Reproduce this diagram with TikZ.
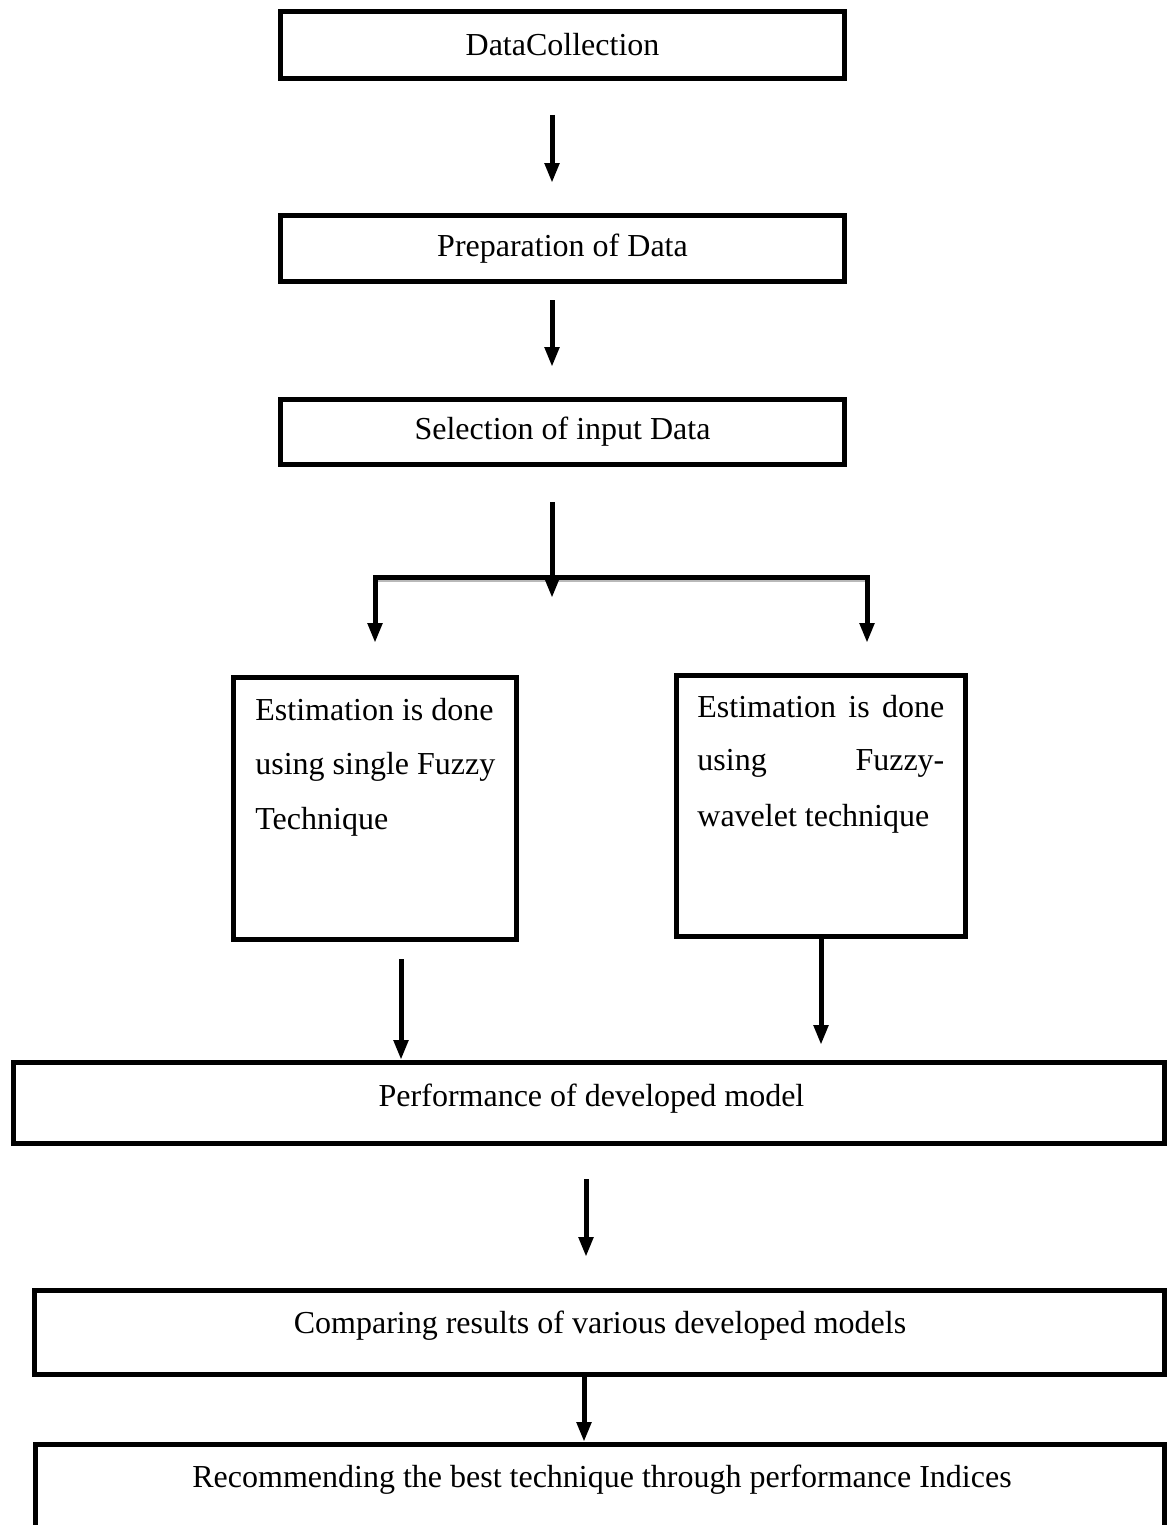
\documentclass[tikz,border=0pt]{standalone}
\usepackage{fontspec}
\setmainfont{Liberation Serif}
\usetikzlibrary{arrows.meta}
\begin{document}
\begin{tikzpicture}[x=0.5pt,y=-0.5pt,
  box/.style={draw, line width=2.5pt, inner sep=0pt, font=\fontsize{16}{19}\selectfont},
  txt/.style={inner sep=0pt, font=\fontsize{16}{19}\selectfont},
  flow/.style={line width=2.5pt, -{Triangle[length=10pt,width=7pt]}},
  shadowline/.style={gray!55, line width=1.5pt},
]
\useasboundingbox (0,0) rectangle (1167,1525);
\clip (0,0) rectangle (1167,1525);

% boxes
\node[box, minimum width=282pt, minimum height=33.5pt] (b1) at (562.5,45) {DataCollection};
\node[box, minimum width=282pt, minimum height=33pt] (b2) at (562.5,248.5) {Preparation of Data};
\node[box, minimum width=282pt, minimum height=32.5pt] (b3) at (562.5,432) {Selection of input Data};
\node[box, minimum width=141.5pt, minimum height=131pt] (L) at (375,808.5) {};
\node[box, minimum width=144.5pt, minimum height=130.5pt] (R) at (821,806) {};
\node[box, minimum width=575.5pt, minimum height=40.5pt] (P) at (589,1103) {};
\node[box, minimum width=565pt, minimum height=42pt] (C) at (599.5,1332.5) {};
\node[box, minimum width=564.5pt, minimum height=76.5pt] (Rec) at (600,1521) {};

% texts
\node[txt, anchor=base west] (l1) at (255,720) {Estimation is done};
\node[txt, anchor=base west] (l2) at (255,774) {using single Fuzzy};
\node[txt, anchor=base west] (l3) at (255,829) {Technique};
\node[txt, anchor=base west] (r1) at (697,717) {\hbox to 123.5pt{Estimation\hfill is\hfill done}};
\node[txt, anchor=base west] (r2) at (697,770) {\hbox to 123.5pt{using\hfill Fuzzy-}};
\node[txt, anchor=base west] (r3) at (697,826) {wavelet technique};
\node[txt, anchor=base] (pt) at (591.5,1106) {Performance of developed model};
\node[txt, anchor=base] (ct) at (600,1333) {Comparing results of various developed models};
\node[txt, anchor=base] (rt) at (602,1487) {Recommending the best technique through performance Indices};

% connector points
\coordinate (a1s) at (552,115);
\coordinate (a1e) at (552,183);
\coordinate (a2s) at (552,300);
\coordinate (a2e) at (552,367);
\coordinate (a3s) at (552,502);
\coordinate (a3e) at (552,598);
\coordinate (jl) at (375,577);
\coordinate (jr) at (867,577);
\coordinate (el) at (375,643);
\coordinate (er) at (867,643);
\coordinate (a4s) at (401,959);
\coordinate (a5e) at (821,1045);
\coordinate (a6s) at (586,1179);
\coordinate (a6e) at (586,1257);
\coordinate (a7) at (584,1400);

% connectors
\draw[flow] (a1s) -- (a1e);
\draw[flow] (a2s) -- (a2e);
\draw[shadowline] ([shift={(3,3.5)}]jl) -- ([shift={(-1,3.5)}]jr);
\draw[line width=2.5pt, {Triangle[length=10pt,width=7pt]}-{Triangle[length=10pt,width=7pt]}] (el) -- (jl) -- (jr) -- (er);
\draw[flow] (a3s) -- (a3e);
\draw[flow] (a4s) -- (a4s |- P.north);
\draw[flow] (R.south) -- (a5e);
\draw[flow] (a6s) -- (a6e);
\draw[flow] (a7 |- C.south) -- (a7 |- Rec.north);
\end{tikzpicture}
\end{document}
